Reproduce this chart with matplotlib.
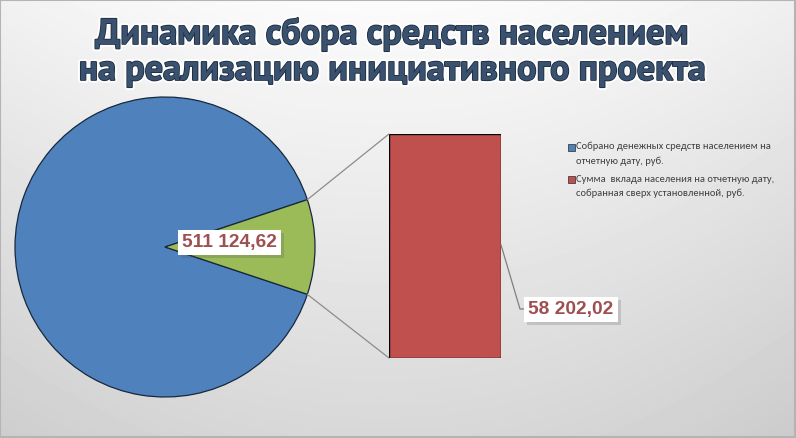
import matplotlib
matplotlib.use("Agg")
import matplotlib.pyplot as plt
import matplotlib.patheffects as pe
from matplotlib.patches import ConnectionPatch, Rectangle
import numpy as np

# data
legend_labels = ["Собрано денежных средств населением на\nотчетную дату, руб.",
                 "Сумма  вклада населения на отчетную дату,\nсобранная сверх установленной, руб."]
pie_values = [511124.62, 58202.02]
bar_values = [58202.02]
value_texts = ["511 124,62", "58 202,02"]
title_lines = ["Динамика сбора средств населением",
               "на реализацию инициативного проекта"]

W, H = 796, 438
fig = plt.figure(figsize=(W / 100, H / 100), dpi=100)

# background gradient
bg = fig.add_axes([0, 0, 1, 1])
yy, xx = np.mgrid[0:H, 0:W]
v = 0.985 - 0.14 * (yy / H) - 0.05 * ((xx - 380) / 420) ** 2
bg.imshow(v, cmap="gray", vmin=0, vmax=1, extent=[0, W, H, 0], aspect="auto")
bg.set_xlim(0, W)
bg.set_ylim(H, 0)
bg.axis("off")
for s in [(0, 0, W, 0), (0, H - 1, W, H - 1), (0, 0, 0, H), (W - 1, 0, W - 1, H)]:
    bg.plot([s[0], s[2]], [s[1], s[3]], color="#b4b4b4", lw=1.5)


def fig_rect(x0, y0, x1, y1):
    # pixel box (top-left origin) -> figure fraction rect
    return [x0 / W, 1 - y1 / H, (x1 - x0) / W, (y1 - y0) / H]


def shadowed(txt):
    txt.get_bbox_patch().set_path_effects(
        [pe.SimplePatchShadow(offset=(2, -2), alpha=0.2), pe.Normal()])


# pie
axp = fig.add_axes(fig_rect(15, 97, 315, 397))
frac = pie_values[1] / sum(pie_values)
ang = 360 * frac
wedges, _ = axp.pie(pie_values, colors=["#4f81bd", "#9bbb59"], startangle=ang / 2,
                    radius=1, wedgeprops=dict(edgecolor="#17283c", linewidth=0.9))
axp.set_xlim(-1, 1)
axp.set_ylim(-1, 1)
axp.set_aspect("equal")
axp.axis("off")

# bar
axb = fig.add_axes(fig_rect(389, 134, 501, 358))
axb.bar([0], bar_values, width=1, color="#c0504d", edgecolor="black", linewidth=1)
axb.set_xlim(-0.5, 0.5)
axb.set_ylim(0, bar_values[0])
axb.axis("off")

# connectors
t = np.deg2rad(ang / 2)
for sgn, yb in [(1, bar_values[0]), (-1, 0)]:
    con = ConnectionPatch(xyA=(np.cos(t), sgn * np.sin(t)), coordsA=axp.transData,
                          xyB=(-0.5, yb), coordsB=axb.transData,
                          color="#8c8c8c", lw=0.9)
    fig.add_artist(con)

lab_color = "#9e4f50"
t1 = axp.text(0.43, 0.03, value_texts[0], ha="center", va="center", fontsize=13.8,
              fontweight="bold", color=lab_color, family="Liberation Sans",
              bbox=dict(boxstyle="square,pad=0.2", fc="white", ec="none"), zorder=5)
shadowed(t1)

# label for bar with leader
p0 = fig.transFigure.inverted().transform(axb.transData.transform((0.5, bar_values[0] * 0.505)))
lx, ly = 520 / W, 1 - 309 / H
fig.add_artist(plt.Line2D([p0[0], lx, 526 / W], [p0[1], ly, ly], color="#7f7f7f", lw=0.9))
t2 = fig.text(571 / W, 1 - 309.5 / H, value_texts[1], ha="center", va="center", fontsize=13.8,
              fontweight="bold", color=lab_color, family="Liberation Sans",
              bbox=dict(boxstyle="square,pad=0.22", fc="white", ec="none"))
shadowed(t2)

# legend (markers aligned with first line, as in the source)
leg_colors = ["#4f81bd", "#c0504d"]
leg_y = [147, 180]
for lab, col, yp in zip(legend_labels, leg_colors, leg_y):
    fig.patches.append(Rectangle((568 / W, 1 - (yp + 3.5) / H), 7 / W, 7 / H,
                                 transform=fig.transFigure, fc=col, ec="#404040", lw=0.6))
    fig.text(576 / W, 1 - (yp - 5.5) / H, lab, ha="left", va="top", fontsize=7.6,
             family=["Carlito", "DejaVu Sans"], color="#404040", linespacing=1.75)

# title
eff = [pe.withStroke(linewidth=4, foreground="white", alpha=0.9),
       pe.withStroke(linewidth=1.2, foreground="#1a2a3c")]
for line, base in zip(title_lines, [44, 80]):
    fig.text(392 / W, 1 - base / H, line, ha="center", va="baseline", fontsize=26,
             fontweight="bold", color="#3a5270", family=["PT Sans", "DejaVu Sans"],
             path_effects=eff)

fig.savefig("out.png", dpi=100)
